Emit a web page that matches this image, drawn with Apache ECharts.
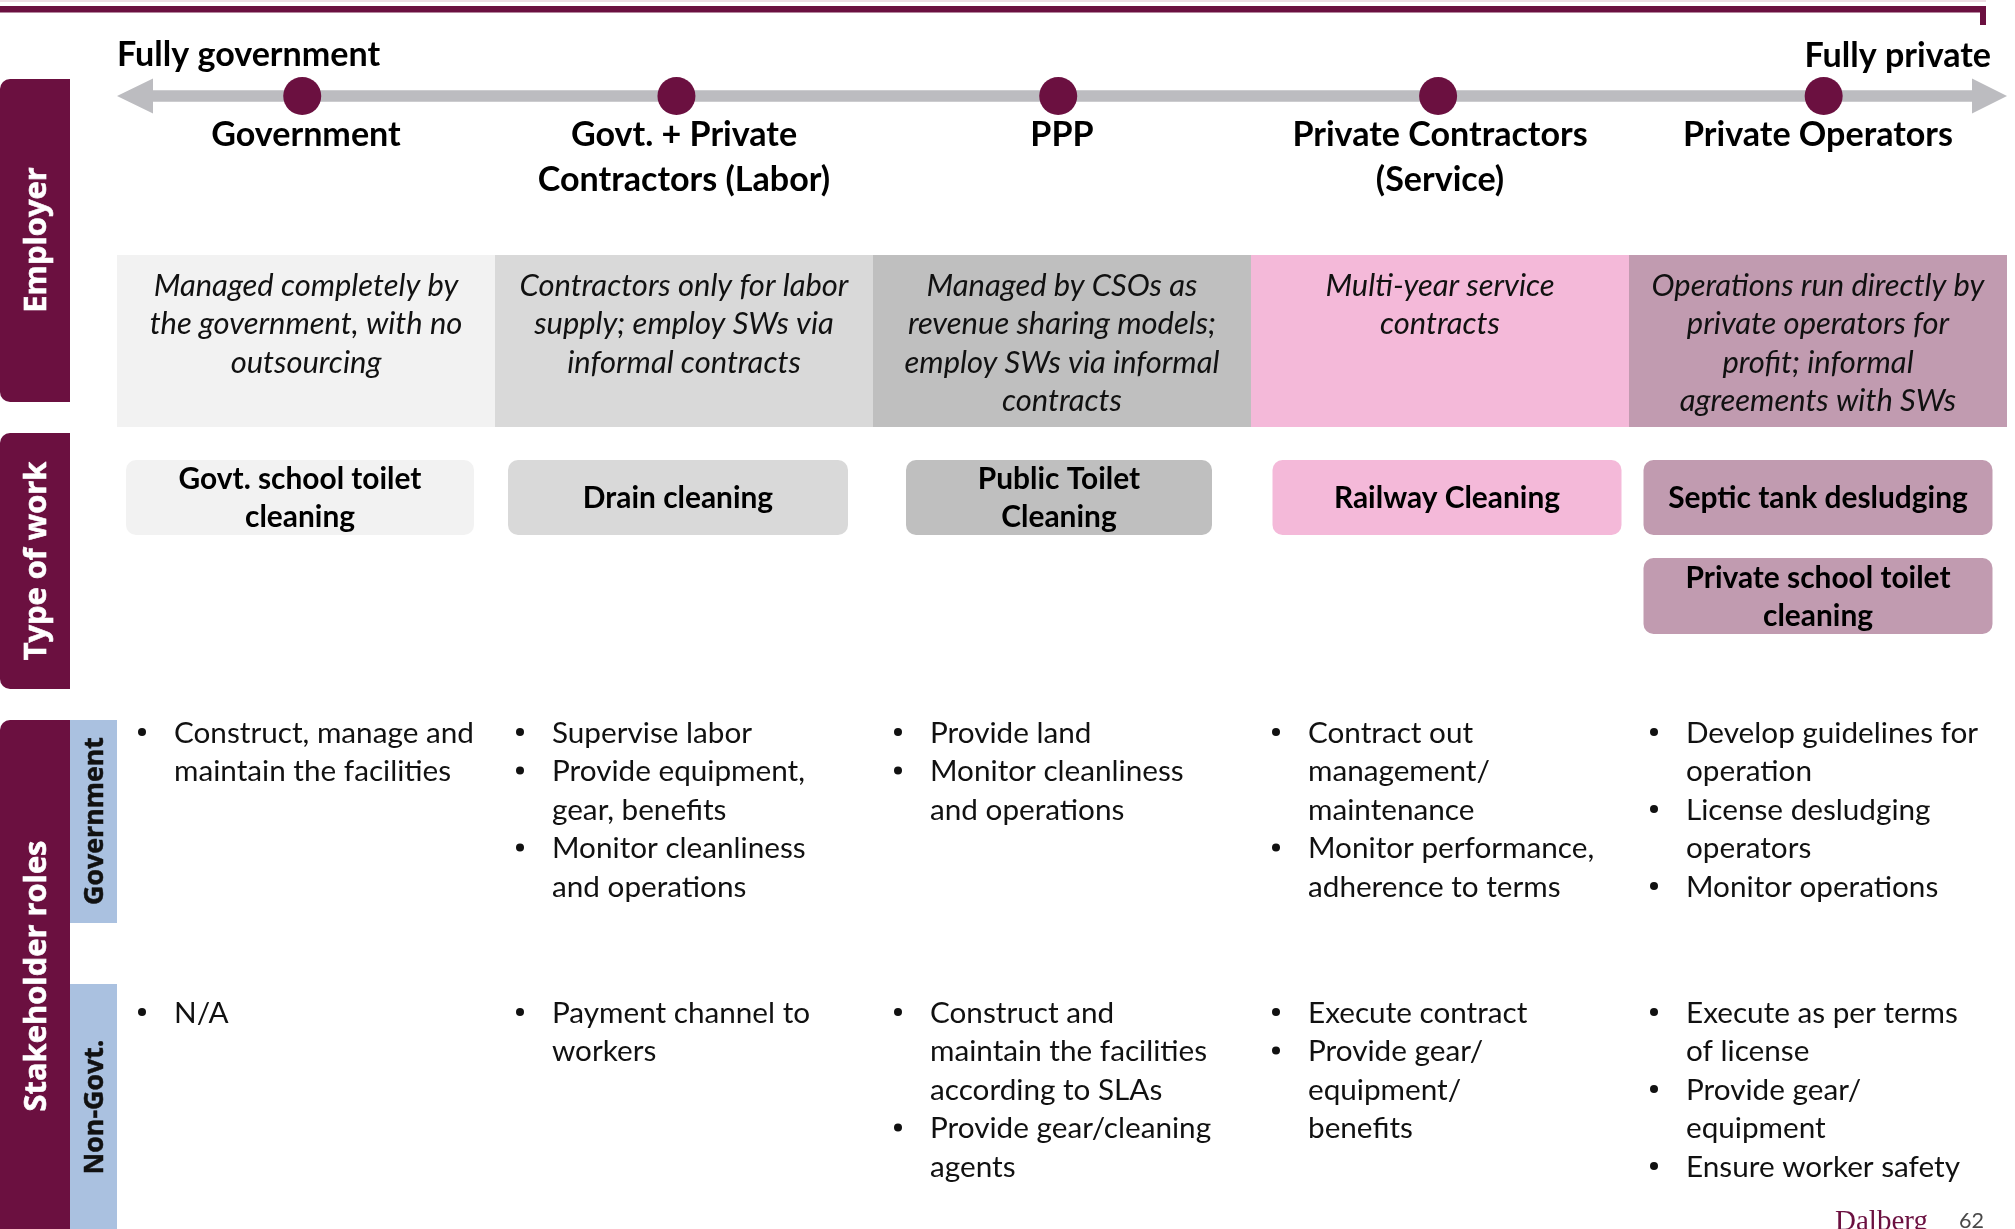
<!DOCTYPE html>
<html>
<head>
<meta charset="utf-8">
<script src="https://cdn.jsdelivr.net/npm/echarts@6/dist/echarts.min.js"></script>
<style>html,body{margin:0;padding:0;background:#fff;}#c{width:2015px;height:1229px;}</style>
</head>
<body>
<div id="c"></div>
<script>
// ---------------- data ----------------
const spectrumEnds = ['Fully government', 'Fully private'];
const columns = ['Government', 'Govt. + Private\nContractors (Labor)', 'PPP', 'Private Contractors\n(Service)', 'Private Operators'];
// position of each employer model along the government -> private spectrum (0 = fully government, 1 = fully private)
const spectrumPosition = [0.098, 0.296, 0.498, 0.699, 0.903];
const rowLabels = ['Employer', 'Type of work', 'Stakeholder roles'];
const stakeholderLabels = ['Government', 'Non-Govt.'];
const employerText = [
  'Managed completely by\nthe government, with no\noutsourcing',
  'Contractors only for labor\nsupply; employ SWs via\ninformal contracts',
  'Managed by CSOs as\nrevenue sharing models;\nemploy SWs via informal\ncontracts',
  'Multi-year service\ncontracts',
  'Operations run directly by\nprivate operators for\nprofit; informal\nagreements with SWs'
];
const workTypes = [
  ['Govt. school toilet\ncleaning'],
  ['Drain cleaning'],
  ['Public Toilet\nCleaning'],
  ['Railway Cleaning'],
  ['Septic tank desludging', 'Private school toilet\ncleaning']
];
const govRoles = [
  ['Construct, manage and\nmaintain the facilities'],
  ['Supervise labor', 'Provide equipment,\ngear, benefits', 'Monitor cleanliness\nand operations'],
  ['Provide land', 'Monitor cleanliness\nand operations'],
  ['Contract out\nmanagement/\nmaintenance', 'Monitor performance,\nadherence to terms'],
  ['Develop guidelines for\noperation', 'License desludging\noperators', 'Monitor operations']
];
const nonGovRoles = [
  ['N/A'],
  ['Payment channel to\nworkers'],
  ['Construct and\nmaintain the facilities\naccording to SLAs', 'Provide gear/cleaning\nagents'],
  ['Execute contract', 'Provide gear/\nequipment/\nbenefits'],
  ['Execute as per terms\nof license', 'Provide gear/\nequipment', 'Ensure worker safety']
];
const footerBrand = 'Dalberg';
const footerPage = '62';

// ---------------- styles / layout ----------------
const W = 2015, H = 1229;
const GRID_LEFT = 117, GRID_RIGHT = 8;
const MAROON = '#6B1040';
const ARROW_GRAY = '#BCBCC0';
const SUBTAB_BLUE = '#AAC1E0';
const colColors = ['#F2F2F2', '#D9D9D9', '#BFBFBF', '#F4B9D9', '#C19BB0'];
const typeBoxLayout = [{dx: -6, w: 348}, {dx: -6, w: 340}, {dx: -3, w: 306}, {dx: 7, w: 349}, {dx: 0, w: 349}];
const typeRowY = [[460, 535], [558, 634]];
const SANS = 'Lato, "Open Sans", sans-serif';
const TAB_FONT = '"Open Sans", "DejaVu Sans", sans-serif';
const SERIF = '"Liberation Serif", "DejaVu Serif", serif';
const TXT = '#111111';

const ctx = document.createElement('canvas').getContext('2d');
function fitSize(str, target, style, weight, family) {
  ctx.font = style + ' ' + weight + ' 100px ' + family;
  const w = ctx.measureText(str).width;
  return w > 0 ? target / w * 100 : 30;
}
const F_HEAD = fitSize('Private Operators', 270, 'normal', 'bold', SANS);
const F_EMP = fitSize('Operations run directly by', 333, 'italic', 'normal', SANS);
const F_TYPE = fitSize('Govt. school toilet', 243, 'normal', 'bold', SANS);
const F_BUL = fitSize('Construct, manage and', 300, 'normal', 'normal', SANS);
const F_TAB = fitSize('Stakeholder roles', 271, 'normal', 'bold', TAB_FONT);
const F_SUB = fitSize('Government', 168, 'normal', 'bold', TAB_FONT);
const F_DAL = fitSize('Dalberg', 93, 'normal', 'normal', SERIF);
const F_PG = fitSize('62', 25, 'normal', 'normal', SANS);

const ARROW_Y = 96;
const HEAD_Y = 135, HEAD_LH = 45;
const EMP_TOP = 255, EMP_BOTTOM = 427, EMP_Y = 286, EMP_LH = 38.3;
const BUL_LH = 38.5, GOV_Y = 733, NONGOV_Y = 1013;

function txt(text, x, y, o) {
  return Object.assign({
    text: text, x: x, y: y, fill: TXT, fontFamily: SANS,
    align: 'center', textAlign: 'center', verticalAlign: 'top', textVerticalAlign: 'top'
  }, o || {});
}

const chart = echarts.init(document.getElementById('c'), null, {renderer: 'canvas', width: W, height: H});

function bulletSeries(name, roles, firstY) {
  return {
    type: 'custom', name: name, z: 5,
    data: roles.map((r, i) => [i, firstY]),
    renderItem: function (params, api) {
      const i = params.dataIndex;
      const cx = api.coord([i, 0])[0];
      const bw = api.size([1, 0])[0];
      const left = cx - bw / 2;
      const children = [];
      let line = 0;
      roles[i].forEach(function (item) {
        const y = api.coord([i, firstY + line * BUL_LH])[1];
        children.push({type: 'circle', shape: {cx: left + 25, cy: y - 1, r: 4}, style: {fill: TXT}});
        children.push({type: 'text', style: txt(item, left + 57, y - BUL_LH / 2, {
          align: 'left', textAlign: 'left', lineHeight: BUL_LH, fontSize: F_BUL
        })});
        line += item.split('\n').length;
      });
      return {type: 'group', children: children};
    }
  };
}

const workItems = [];
workTypes.forEach((arr, i) => arr.forEach((t, r) => workItems.push([i, r])));

// side tabs
const tabs = [
  {y0: 79, y1: 402, r: [10, 0, 0, 10], cy: 240},
  {y0: 433, y1: 689, r: [10, 0, 0, 10], cy: 561},
  {y0: 720, y1: H, r: [10, 0, 0, 0], cy: 976}
];
const subTabs = [{y0: 720, y1: 923, cy: 821}, {y0: 984, y1: H, cy: 1107}];
const graphics = [];
graphics.push({type: 'rect', shape: {x: 0, y: 0, width: 1986, height: 2}, style: {fill: '#EEDDE4'}, silent: true});
graphics.push({type: 'rect', shape: {x: 0, y: 6, width: 1986, height: 6.5}, style: {fill: MAROON}, silent: true});
graphics.push({type: 'rect', shape: {x: 1980, y: 6, width: 6, height: 19}, style: {fill: MAROON}, silent: true});
tabs.forEach((t, k) => {
  graphics.push({type: 'rect', shape: {x: 0, y: t.y0, width: 70, height: t.y1 - t.y0, r: t.r}, style: {fill: MAROON}, silent: true});
  graphics.push({type: 'text', x: 37, y: t.cy, rotation: Math.PI / 2, silent: true,
    style: txt(rowLabels[k], 0, 0, {fill: '#FFFFFF', fontFamily: TAB_FONT, fontWeight: 'bold', fontSize: F_TAB,
      verticalAlign: 'middle', textVerticalAlign: 'middle', stroke: '#FFFFFF', lineWidth: 0.6})});
});
subTabs.forEach((t, k) => {
  graphics.push({type: 'rect', shape: {x: 70, y: t.y0, width: 47, height: t.y1 - t.y0}, style: {fill: SUBTAB_BLUE}, silent: true});
  graphics.push({type: 'text', x: 95, y: t.cy, rotation: Math.PI / 2, silent: true,
    style: txt(stakeholderLabels[k], 0, 0, {fill: TXT, fontFamily: TAB_FONT, fontWeight: 'bold', fontSize: F_SUB,
      verticalAlign: 'middle', textVerticalAlign: 'middle', stroke: TXT, lineWidth: 0.5})});
});
// spectrum arrow
const aL = GRID_LEFT, aR = W - GRID_RIGHT, hw = 35, hh = 17.5, sh = 5.7;
graphics.push({type: 'polygon', silent: true, z: 1, shape: {points: [
  [aL, ARROW_Y], [aL + hw + 1, ARROW_Y - hh], [aL + hw + 1, ARROW_Y - sh], [aR - hw, ARROW_Y - sh], [aR - hw, ARROW_Y - hh],
  [aR, ARROW_Y], [aR - hw, ARROW_Y + hh], [aR - hw, ARROW_Y + sh], [aL + hw + 1, ARROW_Y + sh], [aL + hw + 1, ARROW_Y + hh]
]}, style: {fill: ARROW_GRAY}});
graphics.push({type: 'text', silent: true, style: txt(spectrumEnds[0], GRID_LEFT, 55, {
  align: 'left', textAlign: 'left', verticalAlign: 'middle', textVerticalAlign: 'middle', fontWeight: 'bold', fontSize: F_HEAD, fill: '#000'})});
graphics.push({type: 'text', silent: true, style: txt(spectrumEnds[1], 1991, 56, {
  align: 'right', textAlign: 'right', verticalAlign: 'middle', textVerticalAlign: 'middle', fontWeight: 'bold', fontSize: F_HEAD, fill: '#000'})});
// footer
graphics.push({type: 'text', silent: true, style: txt(footerBrand, 1835, 1222, {
  align: 'left', textAlign: 'left', verticalAlign: 'middle', textVerticalAlign: 'middle', fontFamily: SERIF, fontSize: F_DAL, fill: MAROON})});
graphics.push({type: 'text', silent: true, style: txt(footerPage, 1959, 1221, {
  align: 'left', textAlign: 'left', verticalAlign: 'middle', textVerticalAlign: 'middle', fontSize: F_PG, fill: '#4A4A4A'})});

const option = {
  animation: false,
  backgroundColor: '#FFFFFF',
  grid: {left: GRID_LEFT, right: GRID_RIGHT, top: 0, bottom: 0},
  xAxis: [
    {type: 'category', data: columns, show: false, boundaryGap: true},
    {type: 'value', min: 0, max: 1, show: false}
  ],
  yAxis: {type: 'value', min: 0, max: H, inverse: true, show: false},
  graphic: {elements: graphics},
  series: [
    {
      type: 'custom', name: 'employer', z: 2,
      data: employerText.map((t, i) => [i, EMP_TOP]),
      renderItem: function (params, api) {
        const i = params.dataIndex;
        const cx = api.coord([i, 0])[0];
        const bw = api.size([1, 0])[0];
        const y0 = api.coord([i, EMP_TOP])[1], y1 = api.coord([i, EMP_BOTTOM])[1];
        const x0 = Math.round(cx - bw / 2), x1 = Math.round(cx + bw / 2);
        return {type: 'group', children: [
          {type: 'rect', shape: {x: x0, y: y0, width: x1 - x0, height: y1 - y0}, style: {fill: colColors[i]}},
          {type: 'text', style: txt(employerText[i], cx, api.coord([i, EMP_Y])[1] - EMP_LH / 2, {
            lineHeight: EMP_LH, fontSize: F_EMP, fontStyle: 'italic'})}
        ]};
      }
    },
    {
      type: 'custom', name: 'headers', z: 3,
      data: columns.map((c, i) => [i, HEAD_Y]),
      renderItem: function (params, api) {
        const i = params.dataIndex;
        const p = api.coord([i, HEAD_Y]);
        return {type: 'text', style: txt(columns[i], p[0], p[1] - HEAD_LH / 2, {
          lineHeight: HEAD_LH, fontSize: F_HEAD, fontWeight: 'bold', fill: '#000'})};
      }
    },
    {
      type: 'custom', name: 'typeOfWork', z: 3,
      data: workItems,
      renderItem: function (params, api) {
        const it = workItems[params.dataIndex];
        const i = it[0], r = it[1];
        const cx = api.coord([i, 0])[0] + typeBoxLayout[i].dx;
        const w = typeBoxLayout[i].w;
        const y0 = api.coord([i, typeRowY[r][0]])[1], y1 = api.coord([i, typeRowY[r][1]])[1];
        return {type: 'group', children: [
          {type: 'rect', shape: {x: cx - w / 2, y: y0, width: w, height: y1 - y0, r: 10}, style: {fill: colColors[i]}},
          {type: 'text', style: txt(workTypes[i][r], cx, (y0 + y1) / 2 + 1, {
            verticalAlign: 'middle', textVerticalAlign: 'middle', lineHeight: 38, fontSize: F_TYPE, fontWeight: 'bold', fill: '#000'})}
        ]};
      }
    },
    {
      type: 'scatter', name: 'spectrum', z: 10, xAxisIndex: 1,
      symbol: 'circle', symbolSize: 38,
      itemStyle: {color: MAROON, opacity: 1},
      data: spectrumPosition.map(p => [p, ARROW_Y]),
      silent: true
    },
    bulletSeries('government', govRoles, GOV_Y),
    bulletSeries('nonGovernment', nonGovRoles, NONGOV_Y)
  ]
};
chart.setOption(option);
</script>
</body>
</html>
